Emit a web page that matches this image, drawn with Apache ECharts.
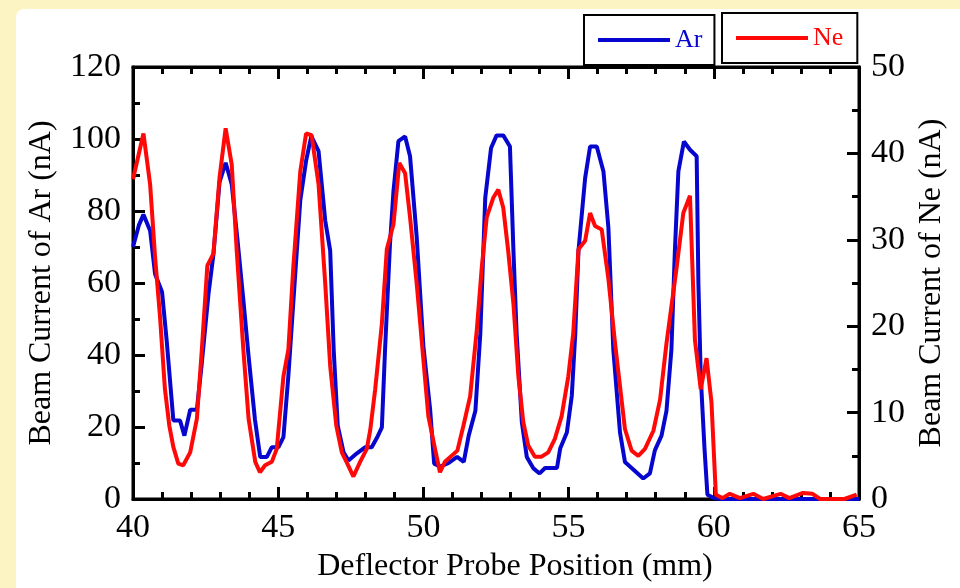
<!DOCTYPE html>
<html>
<head>
<meta charset="utf-8">
<title>Beam Current vs Deflector Probe Position</title>
<script src="https://cdn.jsdelivr.net/npm/echarts@6/dist/echarts.min.js"></script>
<style>
  html, body { margin: 0; padding: 0; background: #fdf4c4; }
  #chart { width: 960px; height: 588px; }
</style>
</head>
<body>
<div id="chart"></div>
<script>
// Probe position (mm) and beam current of Ar (nA), left axis
const arPos = [40.0, 40.2, 40.36, 40.59, 40.76, 41.0, 41.16, 41.39, 41.62, 41.77, 41.97, 42.2, 42.37, 42.6, 42.77, 42.98, 43.19, 43.4, 43.6, 43.8, 43.98, 44.2, 44.38, 44.61, 44.78, 45.01, 45.18, 45.35, 45.58, 45.76, 45.96, 46.14, 46.39, 46.62, 46.79, 46.91, 47.05, 47.25, 47.42, 47.71, 48.0, 48.22, 48.4, 48.57, 48.68, 48.85, 48.97, 49.14, 49.37, 49.54, 49.77, 50.0, 50.23, 50.37, 50.58, 50.87, 51.16, 51.39, 51.56, 51.79, 51.96, 52.13, 52.33, 52.52, 52.75, 52.98, 53.1, 53.21, 53.39, 53.56, 53.79, 54.0, 54.19, 54.6, 54.71, 54.94, 55.11, 55.23, 55.34, 55.57, 55.74, 55.97, 56.2, 56.37, 56.54, 56.77, 56.94, 57.57, 57.8, 57.97, 58.2, 58.37, 58.54, 58.66, 58.78, 58.97, 59.18, 59.41, 59.47, 59.55, 59.68, 59.78, 60.0, 60.24, 60.5, 61.0, 61.5, 62.0, 62.5, 63.0, 63.5, 64.0, 64.5, 65.0];
const arCurrent = [70, 76, 79, 74.5, 62.5, 57.5, 44, 21.8, 21.8, 17.6, 24.8, 24.8, 37.8, 57, 68, 88, 93.4, 87.4, 71.8, 55.3, 39.7, 22, 11.7, 11.7, 14.4, 14.4, 17.2, 34.2, 61.7, 82.9, 93.9, 100.8, 96.6, 77.3, 69, 41.6, 20.4, 13, 10.7, 12.7, 14.4, 14.4, 17, 19.9, 41.6, 70.9, 85.6, 99.4, 100.7, 95.2, 72.7, 42.4, 25, 9.8, 9, 10, 11.7, 10.3, 17.6, 24.5, 46, 83.7, 97.5, 101, 101, 97.9, 69, 46, 21.3, 11.7, 8.5, 7.1, 8.6, 8.6, 14, 18.5, 28.7, 46, 69, 89.2, 97.9, 97.9, 91, 75.4, 41.5, 18.5, 10.3, 5.7, 7.1, 13.5, 17.6, 24.5, 41.5, 69, 91, 99.3, 97, 95.2, 59.8, 34.2, 14, 1.2, 0.3, 0, 0, 0, 0, 0, 0, 0, 0, 0, 0, 0];

// Probe position (mm) and beam current of Ne (nA), right axis
const nePos = [40.0, 40.36, 40.59, 40.76, 40.93, 41.1, 41.25, 41.39, 41.56, 41.73, 41.97, 42.2, 42.37, 42.56, 42.77, 42.98, 43.19, 43.4, 43.57, 43.8, 43.98, 44.21, 44.37, 44.55, 44.78, 44.95, 45.18, 45.35, 45.52, 45.76, 45.96, 46.15, 46.39, 46.62, 46.79, 47.0, 47.19, 47.38, 47.59, 47.82, 48.05, 48.17, 48.34, 48.57, 48.74, 48.97, 49.17, 49.37, 49.54, 49.77, 50.0, 50.17, 50.4, 50.57, 50.74, 51.17, 51.38, 51.61, 51.84, 52.01, 52.18, 52.41, 52.58, 52.75, 52.92, 53.1, 53.27, 53.44, 53.61, 53.84, 54.07, 54.3, 54.53, 54.76, 54.99, 55.16, 55.34, 55.57, 55.74, 55.91, 56.14, 56.37, 56.6, 56.94, 57.17, 57.4, 57.63, 57.92, 58.15, 58.37, 58.72, 58.95, 59.18, 59.35, 59.55, 59.75, 59.92, 60.07, 60.3, 60.55, 60.9, 61.36, 61.7, 62.3, 62.6, 63.07, 63.4, 63.66, 64.0, 64.5, 64.92];
const neCurrent = [37, 42.3, 36.4, 28, 21.1, 12.7, 8.5, 6, 4.1, 3.9, 5.4, 9.3, 17.3, 27, 28.4, 37.2, 42.9, 38.7, 28.8, 17.3, 9.3, 4.3, 3.1, 3.9, 4.3, 5.8, 14.2, 17.3, 26.8, 37.9, 42.3, 42.1, 36.4, 24.9, 15.4, 8.5, 5.4, 4.1, 2.6, 4.3, 5.8, 8, 12.7, 20.3, 28.9, 31.8, 38.9, 37.7, 32.6, 24.9, 16.1, 9.6, 5.8, 3.1, 4.3, 5.6, 8.5, 11.9, 19.6, 26.8, 32.6, 34.9, 35.8, 33.7, 28.7, 22.6, 14.2, 8.9, 6.2, 4.9, 4.9, 5.4, 7, 9.6, 14.2, 19.2, 28.9, 29.9, 33.1, 31.6, 31.2, 25.5, 18, 8.1, 5.6, 5, 5.8, 7.9, 11.5, 18, 26.8, 33.1, 35.1, 18.4, 12.7, 16.3, 11.2, 0.5, 0.1, 0.6, 0.1, 0.6, 0, 0.6, 0.1, 0.7, 0.6, 0, 0, 0, 0.5];

const FONT = "'Liberation Serif', 'Times New Roman', serif";
const BLUE = '#0606cf';
const RED = '#ff0808';

const pairs = (xs, ys) => xs.map((x, i) => [x, ys[i]]);

const tickStyle = { color: '#000', width: 3 };

function frameAxis(extra) {
  return Object.assign({
    type: 'value',
    axisLine: { show: true, onZero: false, lineStyle: { color: '#000', width: 3 } },
    axisTick: { show: true, inside: true, length: 12, lineStyle: tickStyle },
    minorTick: { show: true, splitNumber: 2, length: 7, lineStyle: tickStyle },
    splitLine: { show: false },
    axisLabel: { color: '#000', fontFamily: FONT, fontSize: 34, margin: 12 },
    nameLocation: 'middle',
    nameTextStyle: { color: '#000', fontFamily: FONT, fontSize: 32 }
  }, extra);
}

const chart = echarts.init(document.getElementById('chart'), null, { renderer: 'canvas' });

chart.setOption({
  animation: false,
  backgroundColor: 'transparent',
  graphic: [{
    type: 'rect',
    z: -10,
    silent: true,
    shape: { x: 16, y: 9, width: 960, height: 600, r: 8 },
    style: { fill: '#ffffff' }
  }],
  grid: {
    left: 133, right: 101, top: 67, bottom: 85,
    show: true, borderColor: '#000', borderWidth: 3, backgroundColor: '#ffffff'
  },
  legend: [
    {
      data: [{ name: 'Ar', textStyle: { color: BLUE } }],
      left: 584, top: 15,
      padding: [12, 12, 12, 14],
      backgroundColor: '#fff', borderColor: '#000', borderWidth: 2,
      icon: 'rect', itemWidth: 72, itemHeight: 4, itemGap: 0,
      selectedMode: false,
      textStyle: { fontFamily: FONT, fontSize: 26 }
    },
    {
      data: [{ name: 'Ne', textStyle: { color: RED } }],
      left: 722, top: 13,
      padding: [12, 14, 12, 14],
      backgroundColor: '#fff', borderColor: '#000', borderWidth: 2,
      icon: 'rect', itemWidth: 72, itemHeight: 4, itemGap: 0,
      selectedMode: false,
      textStyle: { fontFamily: FONT, fontSize: 26 }
    }
  ],
  xAxis: [
    frameAxis({
      position: 'bottom', min: 40, max: 65, interval: 5,
      minorTick: { show: true, splitNumber: 5, length: 7, lineStyle: tickStyle },
      name: 'Deflector Probe Position (mm)', nameGap: 52,
      nameTextStyle: { color: '#000', fontFamily: FONT, fontSize: 32, padding: [0, 0, 0, 38] }
    }),
    frameAxis({
      position: 'top', min: 40, max: 65, interval: 5,
      minorTick: { show: true, splitNumber: 5, length: 7, lineStyle: tickStyle },
      axisLabel: { show: false }
    })
  ],
  yAxis: [
    frameAxis({
      position: 'left', min: 0, max: 120, interval: 20,
      name: 'Beam Current of Ar (nA)', nameGap: 75
    }),
    frameAxis({
      position: 'right', min: 0, max: 50, interval: 10,
      name: 'Beam Current of Ne (nA)', nameGap: 57
    })
  ],
  series: [
    {
      name: 'Ar', type: 'line', xAxisIndex: 0, yAxisIndex: 0,
      data: pairs(arPos, arCurrent),
      showSymbol: false, color: BLUE,
      lineStyle: { color: BLUE, width: 4 }
    },
    {
      name: 'Ne', type: 'line', xAxisIndex: 0, yAxisIndex: 1,
      data: pairs(nePos, neCurrent),
      showSymbol: false, color: RED,
      lineStyle: { color: RED, width: 4 }
    }
  ]
});
</script>
</body>
</html>
